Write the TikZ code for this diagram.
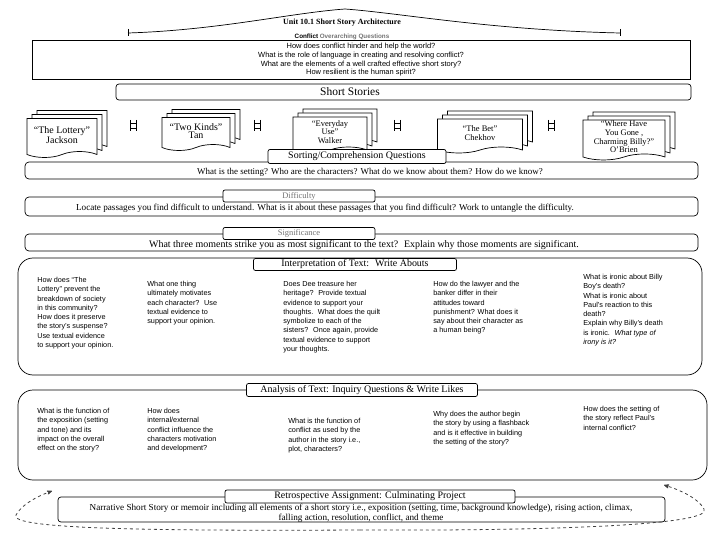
\documentclass[tikz,border=0pt]{standalone}
\usepackage{fontspec}
\setmainfont{Liberation Serif}
\setsansfont{Liberation Sans}
\usetikzlibrary{shapes.symbols,shadows,arrows,positioning}

\begin{document}
\begin{tikzpicture}[x=1bp,y=-1bp,line width=0.7bp,
  band/.style={draw,rounded corners=4bp,minimum width=673bp},
  bigbox/.style={draw,rounded corners=15bp},
  tag/.style={draw,fill=white,rounded corners=2bp,inner sep=0pt,font=\fontsize{10}{11}\selectfont},
  story/.style={tape,tape bend top=none,tape bend height=6bp,draw,fill=white,
    double copy shadow={shadow xshift=5bp,shadow yshift=4bp},align=center,inner sep=1bp},
  col/.style={anchor=north west,align=left,inner sep=0pt,font=\sffamily\fontsize{7.3}{9.3}\selectfont},
  loopback/.style={->,>=stealth',dashed,thick,black!75}]
\useasboundingbox (0,0) rectangle (720,540);

% heading
\node[font=\bfseries\fontsize{8}{9}\selectfont] (title) at (342,22.5) {Unit 10.1 Short Story Architecture};
\node[font=\sffamily\bfseries\fontsize{6.3}{7}\selectfont,below=0.5bp of title] (subtitle)
  {Conflict \textcolor{black!55}{Overarching Questions}};
\draw (128,29) -- (128,36);
\draw (620,29) -- (620,36);
\draw (128,33) .. controls (220,30) and (290,13) .. (345,9) .. controls (400,13) and (490,30) .. (620,33);

\node[draw,minimum width=658bp,minimum height=36bp,align=center,
  font=\sffamily\fontsize{7.5}{8.7}\selectfont] (questions) at (361,60)
  {How does conflict hinder and help the world?\\
   What is the role of language in creating and resolving conflict?\\
   What are the elements of a well crafted effective short story?\\
   How resilient is the human spirit?};

\node[draw,rounded corners=3bp,minimum width=575bp,minimum height=16bp] (shortstories) at (403.5,92) {};
\node[font=\fontsize{11.5}{12}\selectfont] (sstitle) at (350,92) {Short Stories};

% the stories
\foreach \x/\y/\w/\h/\fs/\t [count=\n] in
  {62/135/70/39/10/{“The Lottery”\\Jackson},
   196/131/68/33/10/{“Two Kinds”\\Tan},
   330/132/74/36/8.5/{“Everyday\\Use”\\Walker},
   480/133/85/34/8.5/{“The Bet”\\Chekhov},
   624/137/82/38/8.5/{“Where Have\\You Gone ,\\Charming Billy?”\\O’Brien}}
  \node[story,minimum width=\w bp,minimum height=\h bp,font=\fontsize{\fs}{8.7}\selectfont] (S\n) at (\x,\y) {\t};

\foreach \x in {133,257,397,551}
  \draw[line width=0.6bp] (\x-3,120) -- (\x-3,131) (\x+3,120) -- (\x+3,131)
    (\x-3,123.5) -- (\x+3,123.5) (\x-3,128) -- (\x+3,128);

% question bands
\node[band,minimum height=17bp] (compr) at (361.5,170.5) {};
\node[font=\fontsize{9}{10}\selectfont] (comprtext) at (370,172)
  {What is the setting? Who are the characters? What do we know about them? How do we know?};
\node[tag,minimum width=178bp,minimum height=14bp] (sorting) at (357,156.5) {Sorting/Comprehension Questions};

\node[band,minimum height=19bp] (diff) at (361.5,206.5) {};
\node[font=\fontsize{9.2}{10}\selectfont] (difftext) at (325,208)
  {Locate passages you find difficult to understand. What is it about these passages that you find difficult? Work to untangle the difficulty.};
\node[tag,minimum width=152bp,minimum height=12bp,font=\fontsize{8.5}{9}\selectfont,text=black!55] (difftag) at (299,196) {Difficulty};

\node[band,minimum height=17bp] (signif) at (361.5,242.5) {};
\node[font=\fontsize{10}{11}\selectfont] (signiftext) at (364,245)
  {What three moments strike you as most significant to the text?~ Explain why those moments are significant.};
\node[tag,minimum width=152bp,minimum height=12bp,font=\fontsize{8.5}{9}\selectfont,text=black!55] (signiftag) at (299,233.5) {Significance};

% write abouts
\node[bigbox,minimum width=684bp,minimum height=117bp] (interp) at (360,316.5) {};
\node[tag,minimum width=203bp,minimum height=12bp] (interptag) at (355,264.5) {Interpretation of Text:~ Write Abouts};
\node[col] (I1) at (37,277) {How does “The\\Lottery” prevent the\\breakdown of society\\in this community?\\How does it preserve\\the story’s suspense?\\Use textual evidence\\to support your opinion.};
\node[col] (I2) at (147,281) {What one thing\\ultimately motivates\\each character?~ Use\\textual evidence to\\support your opinion.};
\node[col] (I3) at (283,281) {Does Dee treasure her\\heritage?~ Provide textual\\evidence to support your\\thoughts.~ What does the quilt\\symbolize to each of the\\sisters?~ Once again, provide\\textual evidence to support\\your thoughts.};
\node[col] (I4) at (433,281) {How do the lawyer and the\\banker differ in their\\attitudes toward\\punishment? What does it\\say about their character as\\a human being?};
\node[col] (I5) at (583,274) {What is ironic about Billy\\Boy’s death?\\What is ironic about\\Paul’s reaction to this\\death?\\Explain why Billy’s death\\is ironic.~ \textit{What type of}\\\textit{irony is it?}};

% write likes
\node[bigbox,minimum width=689bp,minimum height=90bp] (analysis) at (362.5,435) {};
\node[tag,minimum width=231bp,minimum height=13bp] (analysistag) at (362,390) {Analysis of Text: Inquiry Questions \& Write Likes};
\node[col] (A1) at (37,408) {What is the function of\\the exposition (setting\\and tone) and its\\impact on the overall\\effect on the story?};
\node[col] (A2) at (147,408) {How does\\internal/external\\conflict influence the\\characters motivation\\and development?};
\node[col] (A3) at (288,418) {What is the function of\\conflict as used by the\\author in the story i.e.,\\plot, characters?};
\node[col] (A4) at (433,411) {Why does the author begin\\the story by using a flashback\\and is it effective in building\\the setting of the story?};
\node[col] (A5) at (583,406) {How does the setting of\\the story reflect Paul’s\\internal conflict?};

% culminating project
\node[draw,rounded corners=3bp,minimum width=607bp,minimum height=25bp] (retro) at (361.5,509.5) {};
\node[align=center,font=\fontsize{9.2}{10}\selectfont] (retrotext) at (361,513.5)
  {Narrative Short Story or memoir including all elements of a short story i.e., exposition (setting, time, background knowledge), rising action, climax,\\
   falling action, resolution, conflict, and theme};
\node[tag,minimum width=290bp,minimum height=13bp] (retrotag) at (370,496.5) {Retrospective Assignment: Culminating Project};

\coordinate (loopmid) at (360,530);
\coordinate (loopleft) at (52,491);
\coordinate (loopright) at (664,485);
\draw[loopback] (loopmid) .. controls (150,531) and (8,529) .. (16,515) .. controls (22,504) and (38,496) .. (loopleft);
\draw[loopback] (loopmid) .. controls (570,531) and (714,524) .. (704,509) .. controls (698,498) and (680,490) .. (loopright);
\end{tikzpicture}
\end{document}
